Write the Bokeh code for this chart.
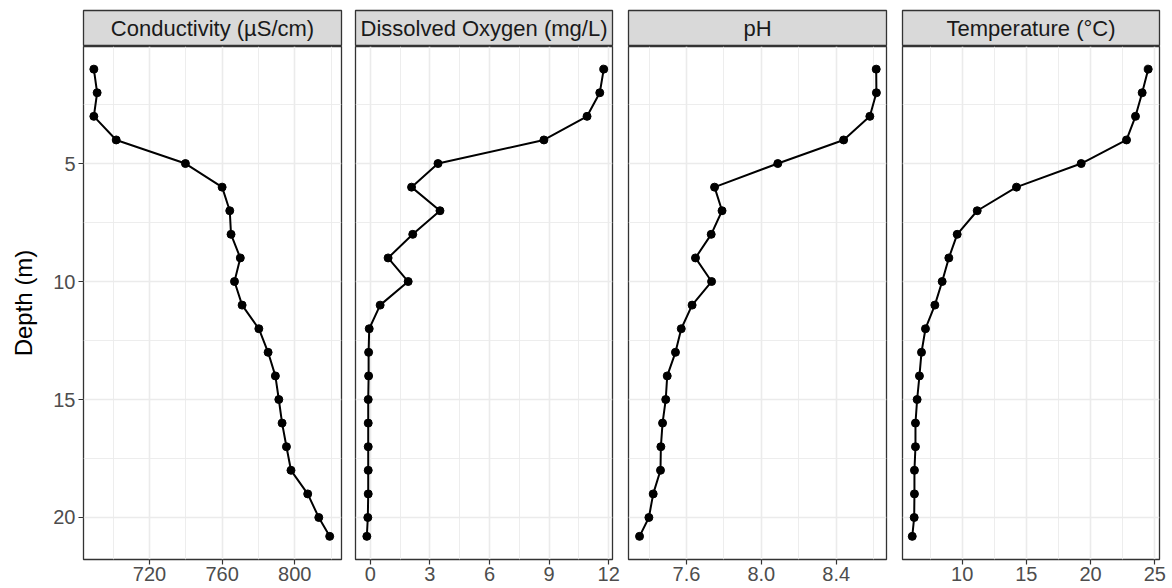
from bokeh.plotting import figure
from bokeh.layouts import row, column
from bokeh.models import (Range1d, FixedTicker, PrintfTickFormatter, Label,
                          ColumnDataSource, BasicTickFormatter)
from bokeh.embed import file_html
from bokeh.resources import INLINE

# ---------------- data ----------------
depth = [1, 2, 3, 4, 5, 6, 7, 8, 9, 10, 11, 12, 13, 14, 15, 16, 17, 18, 19, 20, 20.8]
conductivity = [689.4, 691.2, 689.4, 701.7, 739.8, 760.0, 764.2, 764.9, 770.0, 766.8,
                 771.0, 780.2, 785.3, 789.3, 791.2, 793.0, 795.4, 797.9, 807.1, 813.2, 819.2]
dissolved_oxygen = [11.75, 11.55, 10.91, 8.74, 3.41, 2.08, 3.51, 2.14, 0.90, 1.91,
                    0.50, -0.05, -0.08, -0.08, -0.10, -0.10, -0.10, -0.10, -0.10, -0.12, -0.17]
ph = [8.614, 8.615, 8.58, 8.44, 8.088, 7.75, 7.79, 7.732, 7.648, 7.734,
      7.63, 7.572, 7.541, 7.497, 7.489, 7.472, 7.463, 7.461, 7.422, 7.399, 7.349]
temperature = [24.49, 24.02, 23.5, 22.8, 19.27, 14.23, 11.17, 9.61, 8.96, 8.44,
               7.87, 7.14, 6.83, 6.67, 6.49, 6.36, 6.36, 6.28, 6.28, 6.26, 6.11]

panel_titles = ["Conductivity (\u00b5S/cm)", "Dissolved Oxygen (mg/L)", "pH", "Temperature (\u00b0C)"]
panel_values = [conductivity, dissolved_oxygen, ph, temperature]
x_major = [[720, 760, 800], [0, 3, 6, 9, 12], [7.6, 8.0, 8.4], [10, 15, 20, 25]]
x_minor = [[700, 740, 780, 820], [1.5, 4.5, 7.5, 10.5], [7.4, 7.8, 8.2, 8.6], [7.5, 12.5, 17.5, 22.5]]
x_limits = [(683.7, 825.7), (-0.74, 12.19), (7.29, 8.669), (5.35, 25.37)]
y_major = [5, 10, 15, 20]
y_minor = [2.5, 7.5, 12.5, 17.5]
y_limits = (21.78, 0.04)  # reversed: depth increases downward

# ---------------- layout / style ----------------
FONT = "Liberation Sans"
widths = [348, 272, 274, 278]
border_l = [83, 7, 8, 8]
border_r = [7, 8, 8, 13]
STRIP_H = 46
STRIP_TOP = 10
MAIN_H = 537

cols = []
for i in range(4):
    # strip
    s = figure(width=widths[i], height=STRIP_H, x_range=Range1d(0, 1), y_range=Range1d(0, 1),
               toolbar_location=None, output_backend="svg",
               x_axis_location=None, y_axis_location=None,
               min_border_top=STRIP_TOP, min_border_bottom=0,
               min_border_left=border_l[i], min_border_right=border_r[i])
    s.grid.visible = False
    s.background_fill_color = "#D9D9D9"
    s.border_fill_color = "white"
    s.outline_line_color = "#333333"
    s.outline_line_width = 1.3
    s.add_layout(Label(x=0.5, y=0.5, text=panel_titles[i], text_align="center",
                       text_baseline="middle", text_font=FONT, text_font_size="22px",
                       text_color="#1A1A1A"))

    # main panel
    p = figure(width=widths[i], height=MAIN_H,
               x_range=Range1d(*x_limits[i]), y_range=Range1d(*y_limits),
               toolbar_location=None, output_backend="svg",
               y_axis_location="left" if i == 0 else None,
               min_border_top=0, min_border_bottom=0,
               min_border_left=border_l[i], min_border_right=border_r[i])
    p.background_fill_color = "white"
    p.border_fill_color = "white"
    p.outline_line_color = "#333333"
    p.outline_line_width = 1.3

    xt = FixedTicker(ticks=x_major[i], minor_ticks=x_minor[i])
    yt = FixedTicker(ticks=y_major, minor_ticks=y_minor)
    p.xaxis.ticker = xt
    p.xgrid.ticker = xt
    p.ygrid.ticker = yt
    for g in (p.xgrid, p.ygrid):
        g.grid_line_color = "#EBEBEB"
        g.grid_line_width = 1.6
        g.minor_grid_line_color = "#EBEBEB"
        g.minor_grid_line_width = 0.9

    axes = [p.xaxis[0]]
    if i == 0:
        p.yaxis.ticker = yt
        axes.append(p.yaxis[0])
        p.yaxis.axis_label = "Depth (m)"
        p.yaxis.axis_label_text_font = FONT
        p.yaxis.axis_label_text_font_size = "24px"
        p.yaxis.axis_label_text_font_style = "normal"
        p.yaxis.axis_label_text_color = "black"
        p.yaxis.axis_label_standoff = 13
        p.yaxis.major_label_standoff = 3
    for ax in axes:
        ax.axis_line_color = None
        ax.major_tick_line_color = "#333333"
        ax.major_tick_line_width = 1.2
        ax.major_tick_in = 0
        ax.major_tick_out = 5
        ax.minor_tick_line_color = None
        ax.major_label_text_font = FONT
        ax.major_label_text_font_size = "20px"
        ax.major_label_text_color = "#4D4D4D"
    p.xaxis.major_label_standoff = 2
    if i == 2:
        p.xaxis.formatter = PrintfTickFormatter(format="%.1f")
    else:
        p.xaxis.formatter = BasicTickFormatter(use_scientific=False)

    src = ColumnDataSource(dict(x=panel_values[i], y=depth))
    p.line(x="x", y="y", source=src, line_color="black", line_width=2)
    p.scatter(x="x", y="y", source=src, size=8, fill_color="black", line_color="black")

    cols.append(column(s, p, spacing=0))

layout = row(*cols, spacing=0)
open("out.html", "w").write(file_html(layout, INLINE))
